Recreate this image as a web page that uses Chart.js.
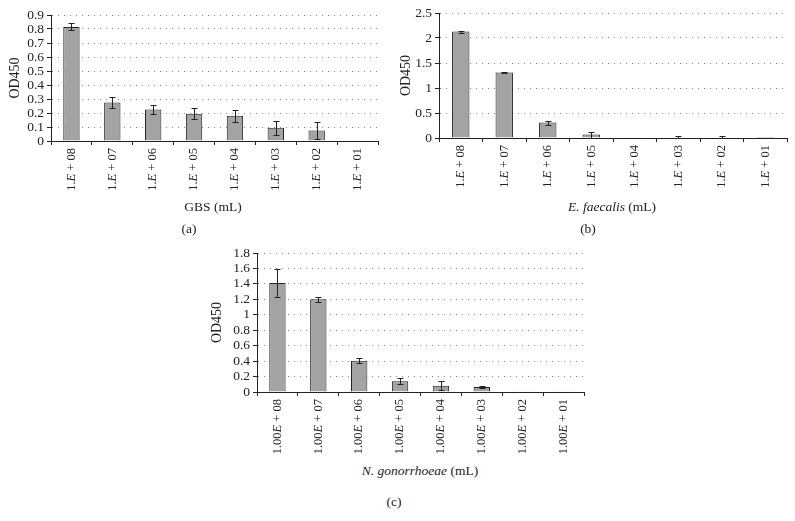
<!DOCTYPE html>
<html>
<head>
<meta charset="utf-8">
<script src="https://cdn.jsdelivr.net/npm/chart.js@4"></script>
<style>
  body { margin: 0; background: #fff; width: 795px; height: 521px; position: relative; overflow: hidden;
         font-family: "Liberation Serif", serif; color: #222; }
  .box { position: absolute; }
  .lbl { position: absolute; font-size: 13.5px; white-space: nowrap; transform: translate(-50%, -50%); }
</style>
</head>
<body>
<div class="box" style="left:0;top:0;width:390px;height:200px"><canvas id="chartA"></canvas></div>
<div class="box" style="left:395px;top:0;width:400px;height:200px"><canvas id="chartB"></canvas></div>
<div class="box" style="left:205px;top:240px;width:390px;height:215px"><canvas id="chartC"></canvas></div>

<div class="lbl" style="left:213px;top:207px">GBS (mL)</div>
<div class="lbl" style="left:189px;top:229px">(a)</div>
<div class="lbl" style="left:612px;top:207px"><i>E. faecalis</i> (mL)</div>
<div class="lbl" style="left:588px;top:229px">(b)</div>
<div class="lbl" style="left:420px;top:471px"><i>N. gonorrhoeae</i> (mL)</div>
<div class="lbl" style="left:394px;top:502px">(c)</div>

<script>
const dilutionsShort = ["1.E + 08", "1.E + 07", "1.E + 06", "1.E + 05", "1.E + 04", "1.E + 03", "1.E + 02", "1.E + 01"];
const dilutionsLong = ["1.00E + 08", "1.00E + 07", "1.00E + 06", "1.00E + 05", "1.00E + 04", "1.00E + 03", "1.00E + 02", "1.00E + 01"];

// (a) GBS
const gbsValues = [0.815, 0.275, 0.225, 0.195, 0.18, 0.095, 0.075, 0];
const gbsErrors = [0.025, 0.04, 0.03, 0.04, 0.045, 0.05, 0.06, 0];
// (b) E. faecalis
const efValues = [2.13, 1.31, 0.31, 0.07, 0.005, 0.004, 0.004, 0.002];
const efErrors = [0.02, 0.01, 0.04, 0.06, 0.004, 0.03, 0.03, 0];
// (c) N. gonorrhoeae
const ngValues = [1.41, 1.2, 0.405, 0.14, 0.08, 0.065, 0.003, 0.003];
const ngErrors = [0.18, 0.03, 0.03, 0.035, 0.06, 0.01, 0.003, 0.003];

const ink = "#222";
const serif = "'Liberation Serif', 'Times New Roman', serif";
const tickSize = 12.5;

// Chart.js non ha barre d'errore: le disegniamo dopo le barre
const errorBars = {
  id: "errorBars",
  afterDatasetsDraw(chart, args, opts) {
    const errs = opts.errors;
    if (!errs) return;
    const meta = chart.getDatasetMeta(0);
    const y = chart.scales.y;
    const vals = chart.data.datasets[0].data;
    const ctx = chart.ctx;
    ctx.save();
    ctx.strokeStyle = ink;
    ctx.lineWidth = 1;
    meta.data.forEach((bar, i) => {
      if (!errs[i]) return;
      const x = Math.round(bar.x) + 0.5;
      const top = Math.round(y.getPixelForValue(vals[i] + errs[i])) + 0.5;
      const bot = Math.round(y.getPixelForValue(Math.max(0, vals[i] - errs[i]))) + 0.5;
      ctx.beginPath();
      ctx.moveTo(x, top); ctx.lineTo(x, bot);
      ctx.moveTo(x - 3, top); ctx.lineTo(x + 3, top);
      ctx.moveTo(x - 3, bot); ctx.lineTo(x + 3, bot);
      ctx.stroke();
    });
    ctx.restore();
  }
};

// etichette ruotate con la "E" in corsivo
const italicTicks = {
  id: "italicTicks",
  afterDraw(chart) {
    const xs = chart.scales.x;
    const ctx = chart.ctx;
    const up = "" + tickSize + "px " + serif;
    const it = "italic " + tickSize + "px " + serif;
    ctx.save();
    ctx.fillStyle = ink;
    ctx.textBaseline = "middle";
    chart.data.labels.forEach((lab, i) => {
      const k = lab.indexOf("E");
      const parts = [[lab.slice(0, k), up], ["E", it], [lab.slice(k + 1), up]];
      let total = 0;
      parts.forEach(p => { ctx.font = p[1]; total += ctx.measureText(p[0]).width; });
      ctx.save();
      ctx.translate(xs.getPixelForValue(i), xs.top + 7);
      ctx.rotate(-Math.PI / 2);
      let cx = -total;
      parts.forEach(p => {
        ctx.font = p[1];
        ctx.fillText(p[0], cx, 0);
        cx += ctx.measureText(p[0]).width;
      });
      ctx.restore();
    });
    ctx.restore();
  }
};

function makeChart(id, labels, values, errors, yMax, yStep, g) {
  const ctx = document.getElementById(id).getContext("2d");
  return new Chart(ctx, {
    type: "bar",
    data: {
      labels: labels,
      datasets: [{
        data: values,
        backgroundColor: "#a3a3a3",
        borderColor: ink,
        borderWidth: 1,
        barPercentage: 0.4,
        categoryPercentage: 1.0
      }]
    },
    plugins: [errorBars, italicTicks],
    options: {
      responsive: true,
      maintainAspectRatio: false,
      animation: false,
      layout: { padding: g.padding },
      plugins: {
        legend: { display: false },
        tooltip: { enabled: false },
        errorBars: { errors: errors }
      },
      scales: {
        x: {
          afterFit: s => { s.height = g.xHeight; },
          grid: { offset: true, drawOnChartArea: false, drawTicks: true, tickLength: 4, tickColor: ink },
          border: { display: true, color: ink, width: 1 },
          ticks: { display: false }
        },
        y: {
          min: 0,
          max: yMax,
          afterFit: s => { s.width = g.yWidth; },
          grid: { color: "#8a8a8a", lineWidth: 1, drawTicks: true, tickLength: 4, tickColor: ink },
          border: { display: true, color: ink, width: 1, dash: [1, 5] },
          ticks: {
            stepSize: yStep, autoSkip: false, color: ink, padding: 3,
            font: { family: serif, size: 13.5 },
            callback: v => String(Number(v.toFixed(2)))
          },
          title: { display: true, text: "OD450", color: ink, font: { family: serif, size: 14 }, padding: { top: g.titlePad, bottom: 0 } }
        }
      }
    }
  });
}

makeChart("chartA", dilutionsShort, gbsValues, gbsErrors, 0.9, 0.1,
  { padding: { left: 0, top: 15, right: 12, bottom: 0 }, xHeight: 59, yWidth: 51, titlePad: 7 });
makeChart("chartB", dilutionsShort, efValues, efErrors, 2.5, 0.5,
  { padding: { left: 0, top: 13, right: 8, bottom: 0 }, xHeight: 62, yWidth: 44, titlePad: 3 });
makeChart("chartC", dilutionsLong, ngValues, ngErrors, 1.8, 0.2,
  { padding: { left: 0, top: 13, right: 11, bottom: 0 }, xHeight: 63, yWidth: 52, titlePad: 4 });
</script>
</body>
</html>
